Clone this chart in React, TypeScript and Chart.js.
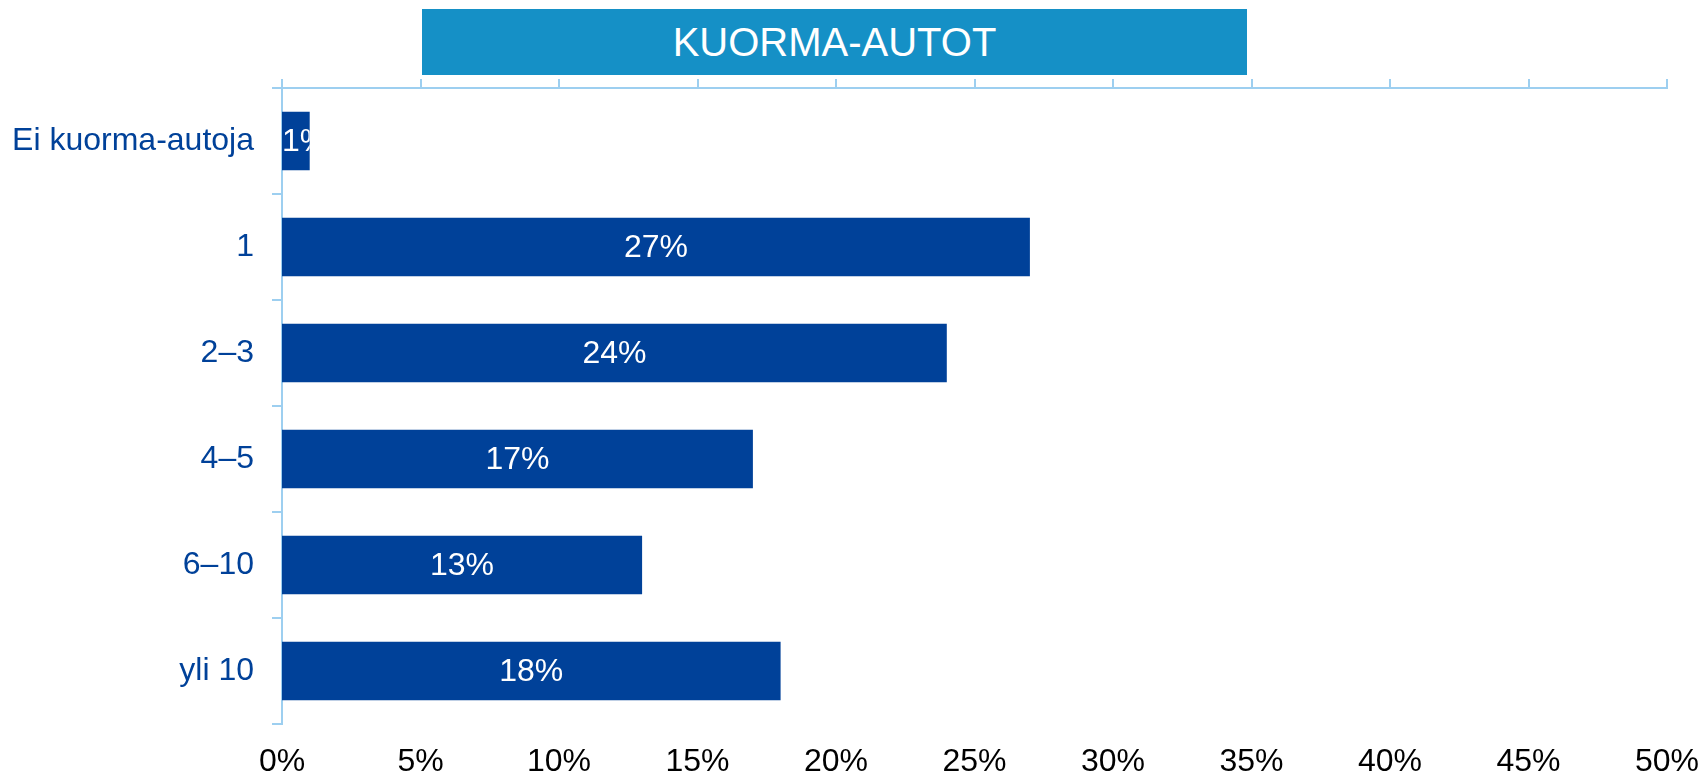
import React, { useEffect, useRef } from "react";
import { Chart, registerables } from "chart.js";

Chart.register(...registerables);

const categories = ["Ei kuorma-autoja", "1", "2–3", "4–5", "6–10", "yli 10"];
const shares = [1, 27, 24, 17, 13, 18];
const xTickValues = [0, 5, 10, 15, 20, 25, 30, 35, 40, 45, 50];
const titleText = "KUORMA-AUTOT";

const FONT = "'Liberation Sans', Arial, Helvetica, sans-serif";
const BAR = "rgb(0, 65, 153)";
const LABEL = "rgb(0, 65, 153)";
const AXIS = "rgb(157, 207, 240)";
const TITLE_BG = "rgb(21, 144, 198)";

const barLabels = {
  id: "barLabels",
  afterDatasetsDraw(chart: any) {
    const ctx = chart.ctx;
    const meta = chart.getDatasetMeta(0);
    ctx.save();
    ctx.font = `32px ${FONT}`;
    ctx.fillStyle = "#ffffff";
    ctx.textBaseline = "middle";
    meta.data.forEach((bar: any, i: number) => {
      const text = `${shares[i]}%`;
      const left = Math.min(bar.base, bar.x);
      const right = Math.max(bar.base, bar.x);
      const w = right - left;
      const tw = ctx.measureText(text).width;
      ctx.save();
      ctx.beginPath();
      ctx.rect(left, bar.y - bar.height / 2, w, bar.height);
      ctx.clip();
      if (tw > w) {
        ctx.textAlign = "left";
        ctx.fillText(text, left, bar.y + 1);
      } else {
        ctx.textAlign = "center";
        ctx.fillText(text, (left + right) / 2, bar.y + 1);
      }
      ctx.restore();
    });
    ctx.restore();
  },
};

export default function App() {
  const canvasRef = useRef<HTMLCanvasElement | null>(null);

  useEffect(() => {
    if (!canvasRef.current) return;
    const chart = new Chart(canvasRef.current, {
      type: "bar",
      data: {
        labels: categories,
        datasets: [
          {
            data: shares,
            backgroundColor: BAR,
            barPercentage: 0.55,
            categoryPercentage: 1,
          },
        ],
      },
      options: {
        indexAxis: "y",
        responsive: false,
        animation: false,
        layout: { padding: { left: 0, right: 35, top: 0, bottom: 0 } },
        plugins: {
          legend: { display: false },
          tooltip: { enabled: false },
          title: { display: false },
        },
        scales: {
          x: {
            position: "bottom",
            min: 0,
            max: 50,
            afterBuildTicks: (s: any) => {
              s.ticks = xTickValues.map((v) => ({ value: v }));
            },
            ticks: {
              color: "#000000",
              font: { size: 32, family: FONT },
              padding: 0,
              maxRotation: 0,
              callback: (v: any) => `${v}%`,
            },
            grid: { display: false, drawTicks: true, tickLength: 19 },
            border: { display: false },
            afterFit: (s: any) => {
              s.height = 51;
            },
          },
          x2: {
            axis: "x",
            type: "linear",
            position: "top",
            min: 0,
            max: 50,
            afterBuildTicks: (s: any) => {
              s.ticks = xTickValues.map((v) => ({ value: v }));
            },
            ticks: { display: false },
            grid: {
              drawOnChartArea: false,
              color: AXIS,
              lineWidth: 2,
              tickLength: 9,
            },
            border: { color: AXIS, width: 2 },
            afterFit: (s: any) => {
              s.height = 88;
            },
          },
          y: {
            ticks: {
              color: LABEL,
              font: { size: 32, family: FONT },
              padding: 18,
            },
            grid: {
              drawOnChartArea: false,
              color: AXIS,
              lineWidth: 2,
              tickLength: 10,
              offset: true,
            },
            border: { color: AXIS, width: 2 },
            afterFit: (s: any) => {
              s.width = 282;
            },
          },
        },
      } as any,
      plugins: [barLabels],
    });
    return () => chart.destroy();
  }, []);

  return (
    <div style={{ position: "absolute", left: 0, top: 0, width: 1702, height: 775, background: "#ffffff" }}>
      <canvas ref={canvasRef} width={1702} height={775} style={{ display: "block" }} />
      <div
        style={{
          position: "absolute",
          left: 422,
          top: 9,
          width: 825,
          height: 66,
          background: TITLE_BG,
          color: "#ffffff",
          fontFamily: FONT,
          fontSize: 40,
          display: "flex",
          alignItems: "center",
          justifyContent: "center",
          lineHeight: 1,
        }}
      >
        {titleText}
      </div>
    </div>
  );
}
